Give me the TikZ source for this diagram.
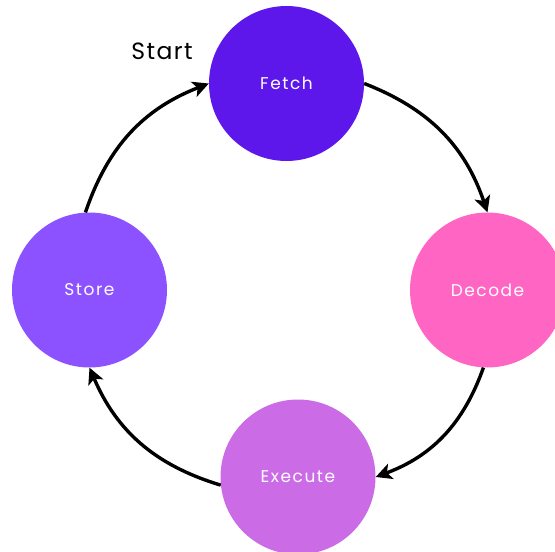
\documentclass[tikz,border=0pt]{standalone}
\usepackage{fontspec}
\setmainfont{Poppins}
\usetikzlibrary{positioning, arrows.meta}

\definecolor{fetchcol}{HTML}{5E17EB}
\definecolor{decodecol}{HTML}{FF66C4}
\definecolor{executecol}{HTML}{CB6CE6}
\definecolor{storecol}{HTML}{8C52FF}

\begin{document}
\begin{tikzpicture}[x=1pt, y=-1pt,
    stage/.style={circle, minimum size=155pt, inner sep=0pt, text=white,
        font=\fontsize{17}{20}\selectfont\addfontfeature{LetterSpace=9}},
    flow/.style={-{Stealth[length=16pt,width=16pt,inset=4pt]}, line width=3.4pt, bend left=25}]
    \useasboundingbox (0,0) rectangle (555,552);

    \node[stage, fill=fetchcol] (fetch) at (286.5,83.5) {Fetch};
    \node[stage, fill=decodecol] (decode) at (487.5,290) {Decode};
    \node[stage, fill=executecol] (execute) at (298,477) {Execute};
    \node[stage, fill=storecol] (store) at (89.5,290) {Store};

    \node[font=\fontsize{23.5}{28}\selectfont\addfontfeature{LetterSpace=6}] (start) at (162,51) {Start};

    \draw[flow] (fetch.east) to (decode.north);
    \draw[flow] (decode.-93) to (execute.east);
    \draw[flow] (execute.186) to (store.south);
    \draw[flow] (store.93) to (fetch.west);
\end{tikzpicture}
\end{document}
